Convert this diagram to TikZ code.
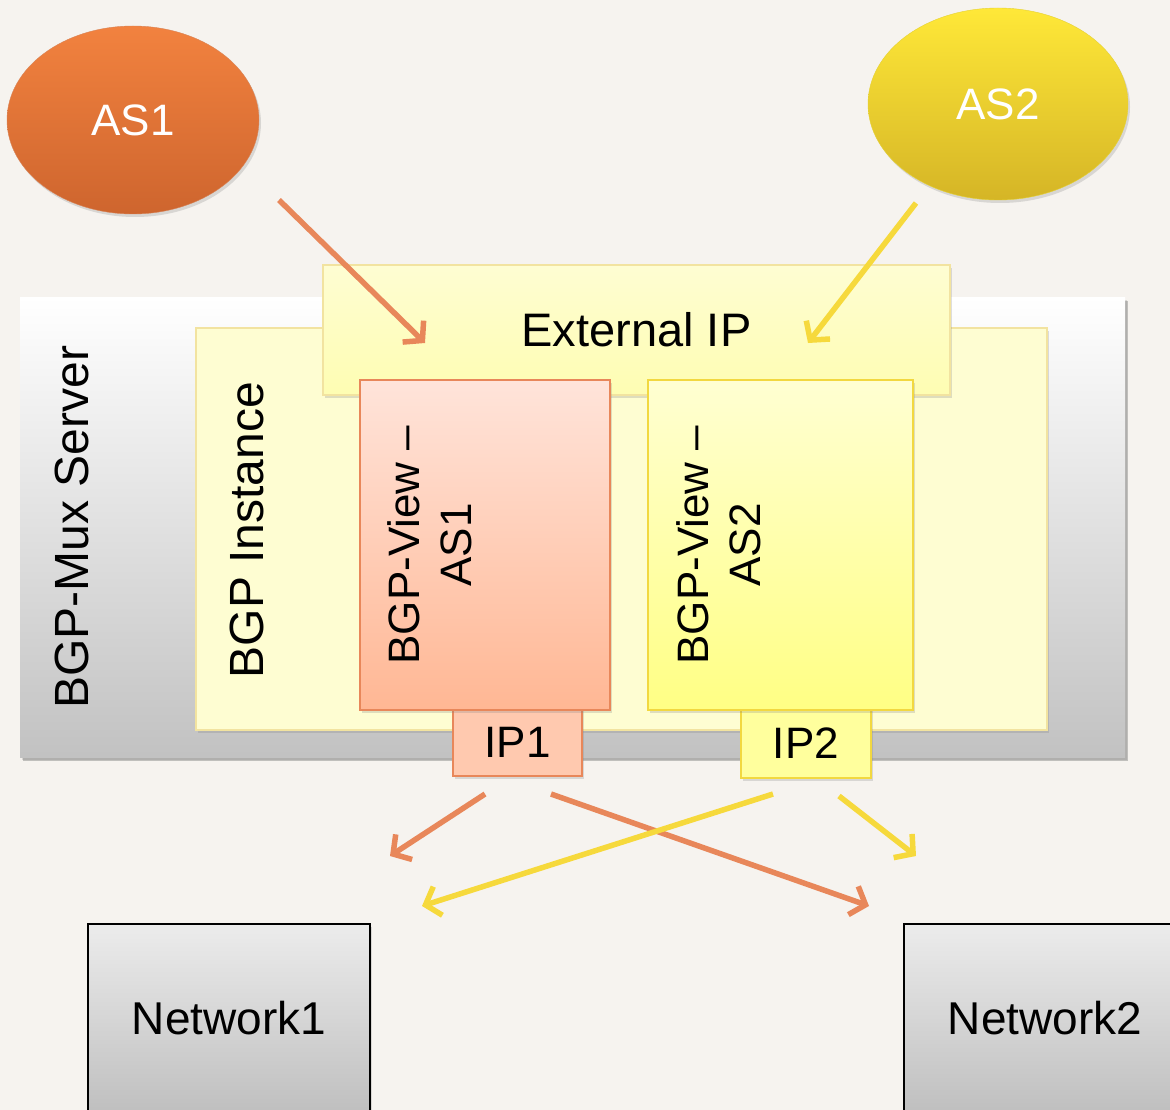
\documentclass[tikz,border=0pt]{standalone}
\usepackage{fontspec}
\setmainfont{Liberation Sans}
\usetikzlibrary{shapes.geometric,arrows.meta,shadows}

\definecolor{bgc}{HTML}{F6F3EF}
\definecolor{orangeA}{HTML}{F2823F}
\definecolor{orangeB}{HTML}{CE652E}
\definecolor{yellowA}{HTML}{FFE838}
\definecolor{yellowB}{HTML}{D5B526}
\definecolor{paleY}{HTML}{FEFDD2}
\definecolor{paleYb}{HTML}{F2E3A0}
\definecolor{salmonA}{HTML}{FFE4DA}
\definecolor{salmonB}{HTML}{FFB794}
\definecolor{salmonL}{HTML}{E8875A}
\definecolor{lemonA}{HTML}{FFFFD2}
\definecolor{lemonB}{HTML}{FFFF84}
\definecolor{lemonL}{HTML}{F2D840}
\definecolor{arrO}{HTML}{E8875A}
\definecolor{arrY}{HTML}{F6D93C}

\tikzset{
  soft/.style={drop shadow={shadow xshift=2pt,shadow yshift=-3pt,opacity=0.25}},
  box/.style={rectangle,inner sep=0pt,font=\fontsize{46}{52}\selectfont,soft},
  asnode/.style={ellipse,inner sep=0pt,minimum width=252,minimum height=188,
    text=white,font=\fontsize{44}{50}\selectfont,soft},
  vlabel/.style={rotate=90,align=center,font=\fontsize{44}{52}\selectfont},
  rlabel/.style={rotate=90,font=\fontsize{48}{52}\selectfont},
  flowO/.style={draw=arrO,line width=5.5pt,-{Straight Barb[length=13pt,width=30pt]}},
  flowY/.style={draw=arrY,line width=5.5pt,-{Straight Barb[length=13pt,width=30pt]}},
  netbox/.style={box,draw=black,line width=2pt,top color=gray!15,bottom color=gray!50,
    minimum width=282,minimum height=188}
}

\begin{document}
\begin{tikzpicture}[x=1pt,y=-1pt]
  \useasboundingbox (0,0) rectangle (1170,1110);
  \fill[bgc] (0,0) rectangle (1170,1110);

  % autonomous systems
  \node[asnode,top color=orangeA,bottom color=orangeB,draw=orangeB!80] (as1) at (133,120) {AS1};
  \node[asnode,top color=yellowA,bottom color=yellowB,draw=yellowA!90!black,minimum width=260,minimum height=192] (as2) at (998,104) {AS2};

  % server and instance
  \node[box,top color=white,bottom color=gray!48,
    drop shadow={shadow xshift=3pt,shadow yshift=-4pt,opacity=0.45},
    minimum width=1105,minimum height=460] (mux) at (572.5,527) {};
  \node[rlabel] (muxlbl) at (72,527) {BGP-Mux Server};

  \node[box,fill=paleY,draw=paleYb,line width=1.5pt,
    minimum width=851,minimum height=402] (inst) at (621.5,529) {};
  \node[rlabel] (instlbl) at (247,530) {BGP Instance};

  \node[box,top color=paleY,bottom color=paleY!85!yellow,draw=paleYb,line width=1.5pt,
    font=\fontsize{47}{52}\selectfont,
    minimum width=627,minimum height=130] (ext) at (636.5,330) {External IP};

  % addresses
  \node[box,fill=salmonB!75,draw=salmonL,line width=1.5pt,font=\fontsize{44}{50}\selectfont,
    minimum width=129,minimum height=68] (ip1) at (517.5,742) {IP1};
  \node[box,fill=lemonB!80,draw=lemonL,line width=1.5pt,font=\fontsize{44}{50}\selectfont,
    minimum width=130,minimum height=70] (ip2) at (806,743) {IP2};

  % views
  \node[box,top color=salmonA,bottom color=salmonB,draw=salmonL,line width=1.5pt,
    minimum width=250,minimum height=330] (v1) at (485,545) {};
  \node[vlabel] (v1lbl) at (430,545) {BGP-View –\\AS1};
  \node[box,top color=lemonA,bottom color=lemonB,draw=lemonL,line width=1.5pt,
    minimum width=265,minimum height=330] (v2) at (780.5,545) {};
  \node[vlabel] (v2lbl) at (719,545) {BGP-View –\\AS2};

  % networks
  \node[netbox] (net1) at (229,1018) {Network1};
  \node[netbox] (net2) at (1045,1018) {Network2};

  % arrow end points
  \coordinate (as1out) at (279,200);
  \coordinate (as1in)  at (425,343);
  \coordinate (as2out) at (916,203);
  \coordinate (as2in)  at (808,343);
  \coordinate (ip1a) at (485,794);
  \coordinate (ip1b) at (551,794);
  \coordinate (ip2a) at (773,794);
  \coordinate (ip2b) at (839,796);
  \coordinate (n1hi) at (390,856);
  \coordinate (n1lo) at (422,906);
  \coordinate (n2hi) at (916,856);
  \coordinate (n2lo) at (869,906);

  \draw[flowO] (as1out) -- (as1in);
  \draw[flowY] (as2out) -- (as2in);
  \draw[flowO] (ip1a) -- (n1hi);
  \draw[flowO] (ip1b) -- (n2lo);
  \draw[flowY] (ip2a) -- (n1lo);
  \draw[flowY] (ip2b) -- (n2hi);
\end{tikzpicture}
\end{document}
